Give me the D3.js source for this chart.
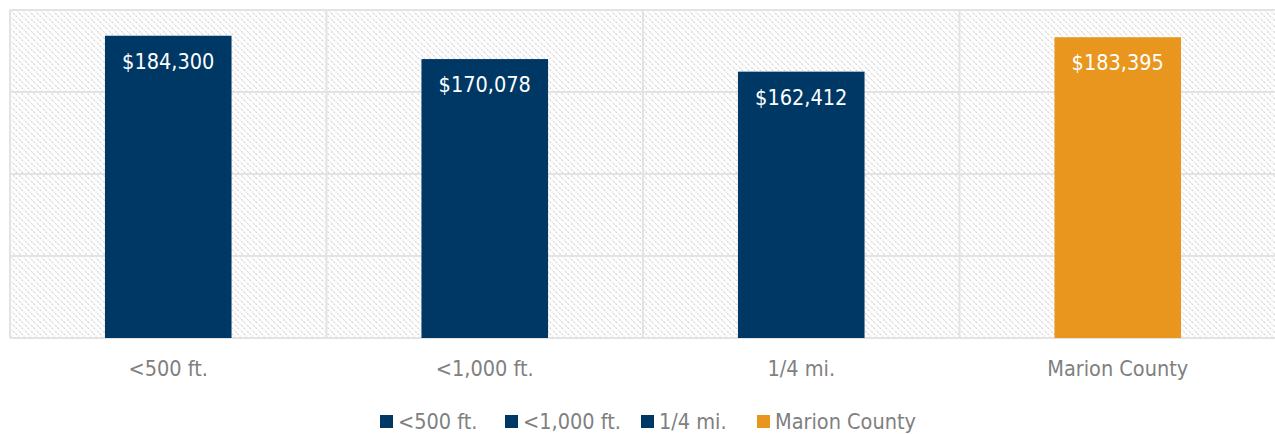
<!DOCTYPE html>
<html>
<head>
<meta charset="utf-8">
<script src="https://cdn.jsdelivr.net/npm/d3@7"></script>
<style>
  body { margin: 0; background: #fff; }
  text { font-family: "Liberation Sans Narrow", "DejaVu Sans Condensed", "Roboto", sans-serif; }
</style>
</head>
<body>
<div id="chart"></div>
<script>
// chart data
var categories = ["<500 ft.", "<1,000 ft.", "1/4 mi.", "Marion County"];
var values = [184300, 170078, 162412, 183395];
var barColors = ["#003865", "#003865", "#003865", "#E8961E"];
var yTicks = [0, 50000, 100000, 150000, 200000];

var width = 1275,
    height = 434;

var margin = { top: 10, right: -1, bottom: 96, left: 10 };

var svg = d3.select("#chart").append("svg")
    .attr("width", width)
    .attr("height", height);

// hatched background pattern
var defs = svg.append("defs");
var pat = defs.append("pattern")
    .attr("id", "hatch")
    .attr("patternUnits", "userSpaceOnUse")
    .attr("width", 6)
    .attr("height", 6);
pat.append("rect").attr("width", 6).attr("height", 6).attr("fill", "#fff");
pat.append("path")
    .attr("d", "M-1,-1 L7,7 M-1,5 L1,7 M5,-1 L7,1")
    .attr("stroke", "#d4d4d4")
    .attr("stroke-width", 1.2)
    .attr("stroke-dasharray", "2,1.2");

var plotW = width - margin.left - margin.right,
    plotH = height - margin.top - margin.bottom;

var x = d3.scaleBand()
    .domain(categories)
    .range([margin.left, margin.left + plotW])
    .paddingInner(0)
    .paddingOuter(0);

var y = d3.scaleLinear()
    .domain([0, 200000])
    .range([margin.top + plotH, margin.top]);

svg.append("rect")
    .attr("x", margin.left)
    .attr("y", margin.top)
    .attr("width", plotW)
    .attr("height", plotH)
    .attr("fill", "url(#hatch)");

// horizontal gridlines
svg.selectAll(".hgrid")
    .data(yTicks)
    .enter().append("line")
    .attr("class", "hgrid")
    .attr("x1", margin.left)
    .attr("x2", margin.left + plotW)
    .attr("y1", function(d) { return y(d); })
    .attr("y2", function(d) { return y(d); })
    .attr("stroke", "#e3e3e3")
    .attr("stroke-width", 2);

// vertical gridlines at category boundaries
var bounds = categories.map(function(c) { return x(c); });
bounds.push(margin.left + plotW);
svg.selectAll(".vgrid")
    .data(bounds)
    .enter().append("line")
    .attr("class", "vgrid")
    .attr("x1", function(d) { return d; })
    .attr("x2", function(d) { return d; })
    .attr("y1", margin.top)
    .attr("y2", margin.top + plotH)
    .attr("stroke", "#e3e3e3")
    .attr("stroke-width", 2);

// bars
var barW = x.bandwidth() * 0.4;
svg.selectAll(".bar")
    .data(values)
    .enter().append("rect")
    .attr("class", "bar")
    .attr("x", function(d, i) { return x(categories[i]) + (x.bandwidth() - barW) / 2; })
    .attr("y", function(d) { return y(d); })
    .attr("width", barW)
    .attr("height", function(d) { return y(0) - y(d); })
    .attr("fill", function(d, i) { return barColors[i]; });

// value labels
var fmt = d3.format("$,d");
svg.selectAll(".val")
    .data(values)
    .enter().append("text")
    .attr("class", "val")
    .attr("x", function(d, i) { return x(categories[i]) + x.bandwidth() / 2; })
    .attr("y", function(d) { return y(d) + 33; })
    .attr("text-anchor", "middle")
    .attr("fill", "#fff")
    .style("font-size", "21.5px")
    .text(function(d) { return fmt(d); });

// category labels
svg.selectAll(".cat")
    .data(categories)
    .enter().append("text")
    .attr("class", "cat")
    .attr("x", function(d) { return x(d) + x.bandwidth() / 2; })
    .attr("y", 376)
    .attr("text-anchor", "middle")
    .attr("fill", "#808080")
    .style("font-size", "21.5px")
    .text(function(d) { return d; });

// legend
var legendX = [380, 505, 641, 757];
var lg = svg.selectAll(".leg")
    .data(categories)
    .enter().append("g")
    .attr("class", "leg")
    .attr("transform", function(d, i) { return "translate(" + legendX[i] + ",415)"; });
lg.append("rect")
    .attr("width", 13)
    .attr("height", 13)
    .attr("fill", function(d, i) { return barColors[i]; });
lg.append("text")
    .attr("x", 18)
    .attr("y", 14)
    .attr("fill", "#808080")
    .style("font-size", "21.5px")
    .text(function(d) { return d; });
</script>
</body>
</html>
